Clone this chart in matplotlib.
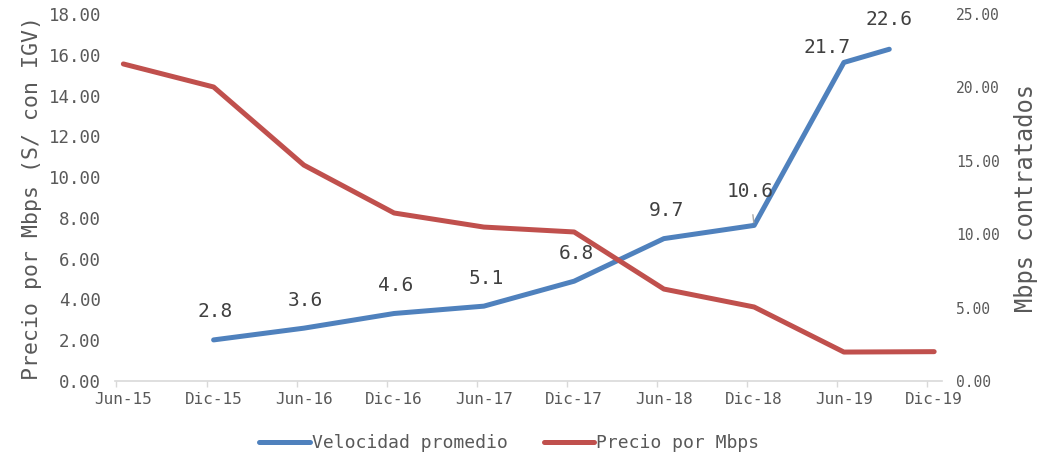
import numpy as np
import pandas as pd
from matplotlib import pyplot as plt
from matplotlib.ticker import FormatStrFormatter

plt.rcParams['font.family'] = ['DejaVu Sans Mono', 'DejaVu Sans']

# data
fechas_precio = ['2015-06-15', '2015-12-15', '2016-06-15', '2016-12-15', '2017-06-15',
                 '2017-12-15', '2018-06-15', '2018-12-15', '2019-06-15', '2019-12-15']
precio_mbps = [15.55, 14.42, 10.59, 8.24, 7.55, 7.31, 4.51, 3.63, 1.42, 1.44]

fechas_vel = ['2015-12-15', '2016-06-15', '2016-12-15', '2017-06-15', '2017-12-15',
              '2018-06-15', '2018-12-15', '2019-06-15', '2019-09-15']
velocidad = [2.8, 3.6, 4.6, 5.1, 6.8, 9.7, 10.6, 21.7, 22.6]

# tick marks at the start of the month, labels centred on the data dates
marca_fechas = ['2015-06-01', '2015-12-01', '2016-06-01', '2016-12-01', '2017-06-01',
                '2017-12-01', '2018-06-01', '2018-12-01', '2019-06-01', '2019-12-01']
tick_labels = ['Jun-15', 'Dic-15', 'Jun-16', 'Dic-16', 'Jun-17',
               'Dic-17', 'Jun-18', 'Dic-18', 'Jun-19', 'Dic-19']

BLUE = '#4F81BD'
RED = '#C0504D'
GRAY = '#595959'
DARK = '#404040'

fig = plt.figure(figsize=(10.48, 4.53), dpi=100, facecolor='w')
ax = fig.add_axes([0.1097, 0.1589, 0.7892, 0.8102])
ax2 = ax.twinx()

# red (left axis) must sit above blue (right axis)
ax.set_zorder(ax2.get_zorder() + 1)
ax.patch.set_visible(False)

l_vel, = ax2.plot(pd.to_datetime(fechas_vel), velocidad, color=BLUE, lw=3.6,
                  solid_capstyle='round', solid_joinstyle='round',
                  label='Velocidad promedio')
l_pre, = ax.plot(pd.to_datetime(fechas_precio), precio_mbps, color=RED, lw=3.6,
                 solid_capstyle='round', solid_joinstyle='round',
                 label='Precio por Mbps')

# data labels for average speed
offsets = {7: (-17, 15), 8: (0, 30)}
for i, (d, v) in enumerate(zip(pd.to_datetime(fechas_vel), velocidad)):
    dx, dy = offsets.get(i, (2, 28))
    if i == 6:
        ax2.annotate(f'{v:.1f}', xy=(d, v), xytext=(-4, 34), textcoords='offset pixels',
                     ha='center', va='center', fontsize=14, color=DARK,
                     arrowprops=dict(arrowstyle='-', color='#a6a6a6', lw=1,
                                     shrinkA=8, shrinkB=2))
    else:
        ax2.annotate(f'{v:.1f}', xy=(d, v), xytext=(dx, dy), textcoords='offset pixels',
                     ha='center', va='center', fontsize=14, color=DARK)

ax.set_xlim(pd.Timestamp('2015-05-29'), pd.Timestamp('2019-12-31'))
ax.set_ylim(0, 18)
ax2.set_ylim(0, 25)
ax.set_yticks(np.arange(0, 18.1, 2))
ax2.set_yticks(np.arange(0, 25.1, 5))
ax.yaxis.set_major_formatter(FormatStrFormatter('%.2f'))
ax2.yaxis.set_major_formatter(FormatStrFormatter('%.2f'))
ax.set_xticks(pd.to_datetime(fechas_precio))
ax.set_xticklabels(tick_labels)
ax.set_xticks(pd.to_datetime(marca_fechas), minor=True)

for a in (ax, ax2):
    for s in ('top', 'left', 'right'):
        a.spines[s].set_visible(False)
    a.spines['bottom'].set_color('#d9d9d9')
    a.spines['bottom'].set_linewidth(1.2)
ax2.spines['bottom'].set_visible(False)

ax.tick_params(axis='x', which='major', length=0, pad=8,
               labelsize=11.5, labelcolor=GRAY)
ax.tick_params(axis='x', which='minor', length=4, color='#d9d9d9', width=1)
ax.tick_params(axis='y', length=0, pad=10, labelsize=12.5, labelcolor=GRAY)
ax2.tick_params(axis='y', length=0, pad=10, labelsize=10.5, labelcolor=GRAY)

ax.set_ylabel('Precio por Mbps (S/ con IGV)', fontsize=15.5, color=GRAY, labelpad=5)
ax2.set_ylabel('Mbps contratados', fontsize=17, color=GRAY, labelpad=10)

fig.legend(handles=[l_vel, l_pre], loc='center', bbox_to_anchor=(0.486, 0.022),
           ncol=2, frameon=False, fontsize=13, handlelength=2.8, handletextpad=0.1,
           columnspacing=2.0, labelcolor=GRAY)

fig.savefig('out.png', dpi=100, facecolor='w')
